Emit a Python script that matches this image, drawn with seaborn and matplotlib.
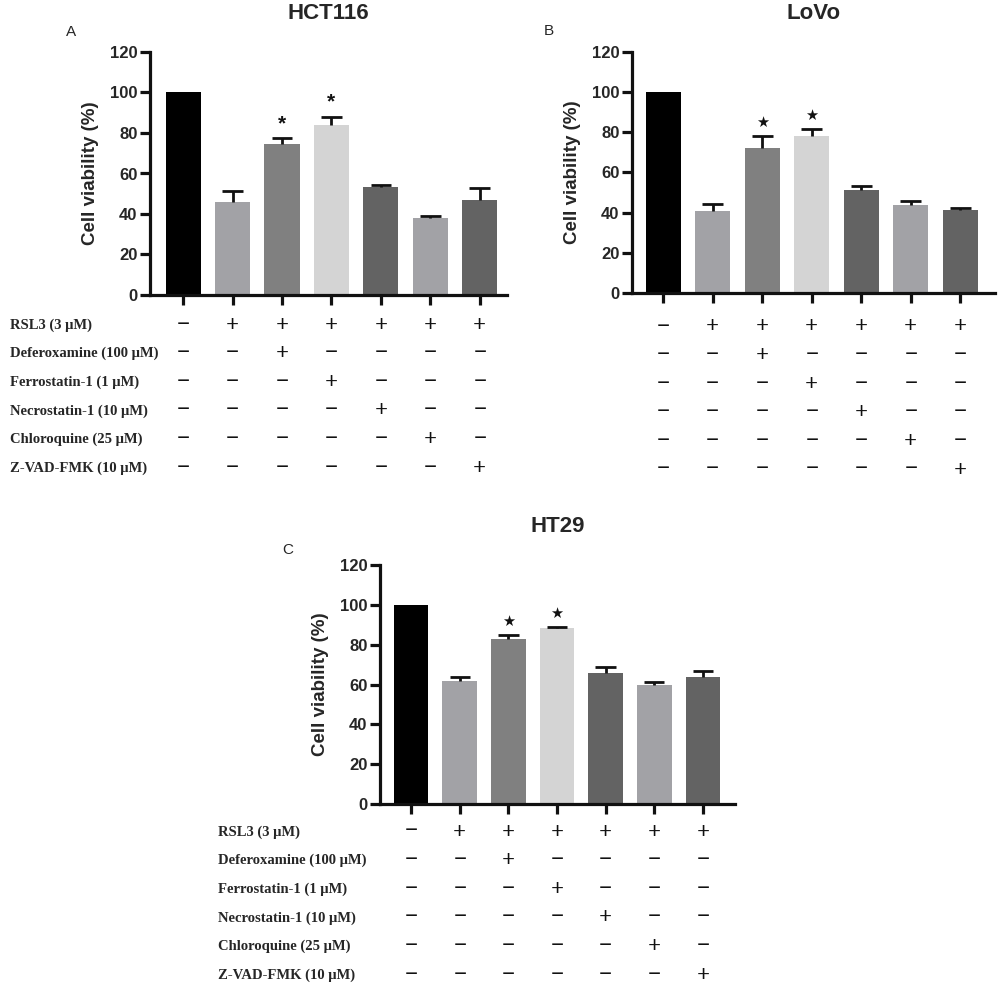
import matplotlib
matplotlib.use("Agg")
import matplotlib.pyplot as plt
import matplotlib.transforms as mtransforms
import seaborn as sns
import pandas as pd
import numpy as np

# ---------------- data ----------------
groups = ["Control", "RSL3", "RSL3+DFO", "RSL3+Fer-1", "RSL3+Nec-1", "RSL3+CQ", "RSL3+Z-VAD"]
bar_colors = ["#000000", "#a2a2a6", "#808080", "#d4d4d4", "#636363", "#a2a2a6", "#636363"]

hct116_mean = [100, 46, 74.5, 84, 53.5, 38, 47]
hct116_sem = [0, 5.5, 3, 4, 1, 1, 6]
lovo_mean = [100, 40.8, 72, 78, 51.5, 44, 41.5]
lovo_sem = [0, 3.4, 6, 3.5, 1.8, 1.8, 1]
ht29_mean = [100, 61.8, 83, 88.3, 66, 59.8, 64]
ht29_sem = [0, 2, 1.7, 0.8, 2.9, 1.4, 2.9]
significant = [False, False, True, True, False, False, False]

treatments = ["RSL3 (3 μM)", "Deferoxamine (100 μM)", "Ferrostatin-1 (1 μM)",
              "Necrostatin-1 (10 μM)", "Chloroquine (25 μM)", "Z-VAD-FMK (10 μM)"]
design = [
    [0, 1, 1, 1, 1, 1, 1],
    [0, 0, 1, 0, 0, 0, 0],
    [0, 0, 0, 1, 0, 0, 0],
    [0, 0, 0, 0, 1, 0, 0],
    [0, 0, 0, 0, 0, 1, 0],
    [0, 0, 0, 0, 0, 0, 1],
]
yticks = [0, 20, 40, 60, 80, 100, 120]

# ---------------- style ----------------
sns.set_style("ticks")
plt.rcParams["font.family"] = ["Liberation Sans", "DejaVu Sans"]

W, H = 1000, 996
fig = plt.figure(figsize=(W / 100, H / 100), dpi=100)


def px_axes(left, top, right, bottom):
    return fig.add_axes([left / W, 1 - bottom / H, (right - left) / W, (bottom - top) / H])


panels = [
    dict(title="HCT116", letter="A", mean=hct116_mean, sem=hct116_sem, box=(150, 52, 507, 295),
         xlim=(-0.67, 6.55), letter_xy=(71, 32), star="*", row0=30, labels_x=10),
    dict(title="LoVo", letter="B", mean=lovo_mean, sem=lovo_sem, box=(632, 52, 995, 293),
         xlim=(-0.63, 6.7), letter_xy=(549, 31), star="★", row0=34, labels_x=None),
    dict(title="HT29", letter="C", mean=ht29_mean, sem=ht29_sem, box=(380, 565, 735, 804),
         xlim=(-0.64, 6.66), letter_xy=(288, 550), star="★", row0=28, labels_x=218),
]

row_step = 28.6
cap_half = 0.21
ink = "#111111"

for p in panels:
    ax = px_axes(*p["box"])
    df = pd.DataFrame({"group": groups, "viability": p["mean"]})
    sns.barplot(data=df, x="group", y="viability", hue="group", order=groups,
                hue_order=groups, palette=bar_colors, width=0.71, errorbar=None,
                legend=False, ax=ax, saturation=1, linewidth=0)
    x = np.arange(len(groups))
    mean = np.array(p["mean"], dtype=float)
    sem = np.array(p["sem"], dtype=float)
    has = sem > 0
    # upper-only error bars (GraphPad style)
    ax.vlines(x[has], mean[has], mean[has] + sem[has], color=ink, linewidth=2.0, zorder=3)
    ax.hlines(mean[has] + sem[has], x[has] - cap_half, x[has] + cap_half, color=ink,
              linewidth=2.0, zorder=3)
    for xi, m, s, sig in zip(x, mean, sem, significant):
        if sig:
            if p["star"] == "*":
                ax.text(xi, m + s + 2.5, "*", ha="center", va="bottom", fontsize=15,
                        fontweight="bold", color=ink)
            else:
                ax.text(xi, m + s + 3, "★", ha="center", va="bottom", fontsize=10.5,
                        family="DejaVu Sans", color=ink)

    ax.set_ylim(0, 120)
    ax.set_xlim(*p["xlim"])
    ax.set_yticks(yticks)
    ax.set_yticklabels([str(v) for v in yticks], fontsize=12, fontweight="bold")
    ax.set_xticks(x)
    ax.set_xticklabels([])
    ax.set_xlabel("")
    ax.set_ylabel("Cell viability (%)", fontsize=13.5, fontweight="bold", labelpad=8)
    sns.despine(ax=ax)
    for side in ("left", "bottom"):
        ax.spines[side].set_linewidth(2.3)
        ax.spines[side].set_color(ink)
    ax.tick_params(axis="both", direction="out", length=7, width=2.3, color=ink, pad=2)
    ax.set_title(p["title"], fontsize=16, fontweight="bold", pad=24)

    fig.text(p["letter_xy"][0] / W, 1 - p["letter_xy"][1] / H, p["letter"],
             ha="center", va="center", fontsize=11)

    # treatment table
    trans = mtransforms.blended_transform_factory(ax.transData, fig.transFigure)
    bottom_px = p["box"][3]
    for r, (name, row) in enumerate(zip(treatments, design)):
        ypx = bottom_px + p["row0"] + r * row_step
        yf = 1 - ypx / H
        if p["labels_x"] is not None:
            fig.text(p["labels_x"] / W, yf, name, ha="left", va="center", fontsize=10.5,
                     fontweight="bold", family=["Liberation Serif", "DejaVu Serif"])
        for xi, v in zip(x, row):
            ax.text(xi, yf, "+" if v else "−", transform=trans, ha="center", va="center",
                    fontsize=16.5, fontweight="bold",
                    family=["Liberation Serif", "DejaVu Serif"],
                    color=ink, clip_on=False)

fig.savefig("out.png", dpi=100, facecolor="white")
